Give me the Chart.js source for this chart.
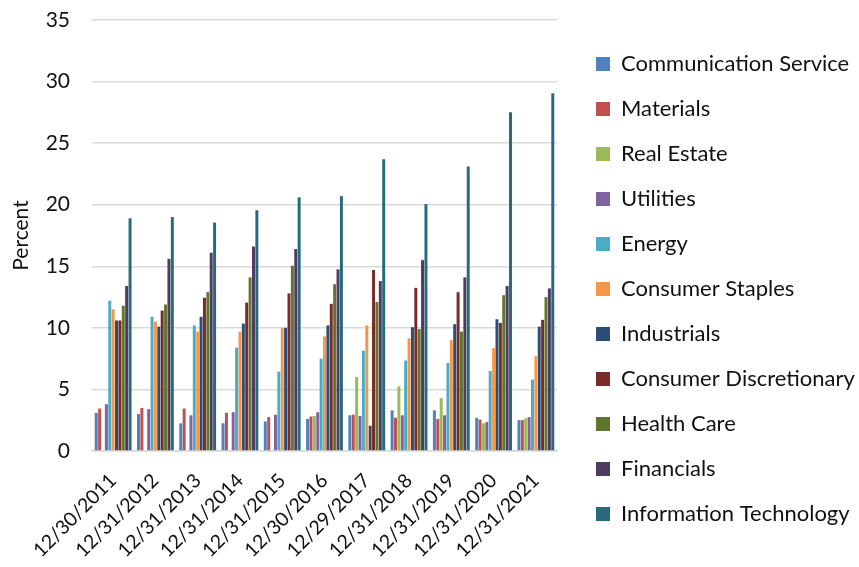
<!DOCTYPE html>
<html>
<head>
<meta charset="utf-8">
<script src="https://cdn.jsdelivr.net/npm/chart.js@4"></script>
<style>
  html, body { margin: 0; padding: 0; background: #ffffff; }
  #wrap { width: 859px; height: 567px; position: relative; }
</style>
</head>
<body>
<div id="wrap"><canvas id="c" width="859" height="567"></canvas></div>
<script>
// Year-end dates (category axis)
const dates = ["12/30/2011", "12/31/2012", "12/31/2013", "12/31/2014", "12/31/2015",
               "12/30/2016", "12/29/2017", "12/31/2018", "12/31/2019", "12/31/2020", "12/31/2021"];

// Sector weights, percent
const communicationService = [3.1, 3.0, 2.25, 2.25, 2.4, 2.6, 2.9, 3.3, 3.3, 2.7, 2.5];
const materials = [3.45, 3.5, 3.45, 3.1, 2.75, 2.8, 2.95, 2.7, 2.6, 2.55, 2.5];
const realEstate = [null, null, null, null, null, 2.85, 6.0, 5.25, 4.3, 2.25, 2.65];
const utilities = [3.8, 3.4, 2.9, 3.15, 2.95, 3.15, 2.85, 2.9, 2.9, 2.35, 2.75];
const energy = [12.2, 10.9, 10.2, 8.4, 6.45, 7.5, 8.15, 7.35, 7.15, 6.5, 5.8];
const consumerStaples = [11.5, 10.5, 9.7, 9.7, 10.0, 9.3, 10.2, 9.15, 9.0, 8.35, 7.7];
const industrials = [10.6, 10.1, 10.9, 10.35, 10.0, 10.2, 2.05, 10.05, 10.3, 10.7, 10.1];
const consumerDiscretionary = [10.6, 11.4, 12.45, 12.05, 12.8, 11.95, 14.7, 13.25, 12.9, 10.4, 10.65];
const healthCare = [11.8, 11.9, 12.9, 14.1, 15.05, 13.55, 12.1, 9.9, 9.7, 12.65, 12.5];
const financials = [13.4, 15.6, 16.1, 16.6, 16.4, 14.75, 13.8, 15.5, 14.1, 13.4, 13.2];
const informationTechnology = [18.9, 19.0, 18.55, 19.55, 20.6, 20.7, 23.7, 20.05, 23.1, 27.5, 29.05];

// Y axis ticks
const yTicks = [0, 5, 10, 15, 20, 25, 30, 35];

const seriesNames = ["Communication Service", "Materials", "Real Estate", "Utilities", "Energy",
  "Consumer Staples", "Industrials", "Consumer Discretionary", "Health Care", "Financials",
  "Information Technology"];
const seriesValues = [communicationService, materials, realEstate, utilities, energy,
  consumerStaples, industrials, consumerDiscretionary, healthCare, financials, informationTechnology];
const seriesColors = ["#4F81BD", "#C0504D", "#9BBB59", "#8064A2", "#4BACC6", "#F79646",
  "#2C4D75", "#772C2A", "#5F7530", "#4D3B62", "#276A7C"];

const FONT = "Lato, 'Open Sans', sans-serif";
const TEXT = "#111111";
const LEGEND_SIZE = 22;
const LEGEND_PAD = 23;
const BOX = 14;
const PLOT_RIGHT = 557;
const BOX_X = 596;

// Measure the widest legend entry so the legend column starts where intended
const mctx = document.createElement('canvas').getContext('2d');
mctx.font = LEGEND_SIZE + "px " + FONT;
const widest = Math.max(...seriesNames.map(n => mctx.measureText(n).width));
const legendWidth = Math.ceil(LEGEND_PAD + BOX + LEGEND_SIZE / 2 + widest);
const legendLeft = BOX_X - LEGEND_PAD;
const rightPad = Math.max(0, 859 - legendLeft - legendWidth);

const datasets = seriesNames.map((name, i) => ({
  label: name,
  data: seriesValues[i],
  backgroundColor: seriesColors[i],
  borderWidth: 0,
  categoryPercentage: 0.88,
  barPercentage: 0.88,
  yAxisID: 'y'
}));

new Chart(document.getElementById('c'), {
  type: 'bar',
  data: { labels: dates, datasets },
  options: {
    responsive: false,
    animation: false,
    devicePixelRatio: 1,
    layout: { padding: { top: 20, bottom: 9, left: 0, right: rightPad } },
    plugins: {
      legend: {
        position: 'right',
        align: 'center',
        maxWidth: legendWidth,
        labels: {
          boxWidth: BOX,
          boxHeight: BOX,
          padding: LEGEND_PAD,
          color: TEXT,
          font: { family: FONT, size: LEGEND_SIZE }
        }
      },
      tooltip: { enabled: false }
    },
    scales: {
      x: {
        grid: { display: false },
        border: { display: true, color: '#d9d9d9', width: 1.5 },
        ticks: {
          color: TEXT,
          font: { family: FONT, size: 19.5 },
          minRotation: 45,
          maxRotation: 45,
          autoSkip: false,
          padding: 10
        },
        afterFit: s => { s.height = 558 - 451; }
      },
      y: {
        min: 0,
        max: 35,
        afterBuildTicks: s => { s.ticks = yTicks.map(v => ({ value: v })); },
        grid: { color: '#d9d9d9', lineWidth: 1.5, drawTicks: false },
        border: { display: false },
        ticks: {
          color: TEXT,
          font: { family: FONT, size: 21 },
          padding: 22
        },
        title: {
          display: true,
          text: 'Percent',
          color: TEXT,
          font: { family: FONT, size: 21 },
          padding: { top: 9, bottom: 0 }
        },
        afterFit: s => { s.width = 92; s.paddingTop = 0; s.paddingBottom = 0; }
      },
      // empty spacer between the plot and the legend
      gap: {
        position: 'right',
        display: true,
        grid: { display: false },
        border: { display: false },
        ticks: { display: false },
        afterFit: s => { s.width = legendLeft - PLOT_RIGHT; }
      }
    }
  }
});
</script>
</body>
</html>
